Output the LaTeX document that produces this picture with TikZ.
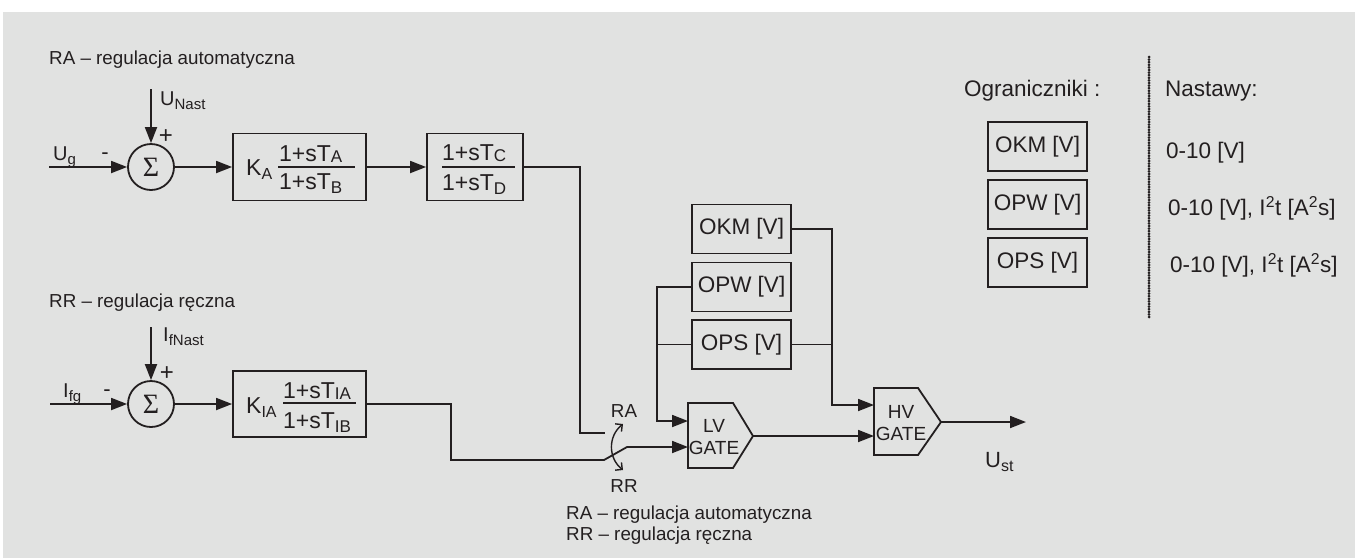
\documentclass[tikz,border=0pt]{standalone}
\usepackage{fontspec}
\setmainfont{Liberation Sans}
\newfontfamily\sigmafont{Liberation Serif}
\usetikzlibrary{arrows.meta}
\definecolor{bg}{RGB}{225,226,225}
\definecolor{ink}{RGB}{35,31,32}
\newcommand{\fs}[1]{\fontsize{#1}{#1}\selectfont}
\newcommand{\sbs}[2]{\raisebox{-4pt}{\fontsize{#1}{#1}\selectfont #2}}
\newcommand{\sbn}[2]{\raisebox{-1.5pt}{\fontsize{#1}{#1}\selectfont #2}}
\begin{document}
\begin{tikzpicture}[x=1pt,y=-1pt,
  wire/.style={draw=ink, line width=1.8pt},
  blk/.style={draw=ink, line width=1.8pt, rectangle, inner sep=0pt},
  sumc/.style={draw=ink, line width=1.8pt, circle, minimum size=46pt, inner sep=0pt, text=ink, font=\sigmafont\fs{28}},
  txt/.style={inner sep=0pt, text=ink, font=\fs{18.8}},
  lab/.style={inner sep=0pt, text=ink, font=\fs{20}},
  frac/.style={inner sep=0pt, text=ink, font=\fs{23}},
  big/.style={inner sep=0pt, text=ink, font=\fs{22.5}},
  gate/.style={draw=ink, line width=1.8pt, line join=miter},
  arr/.style={-{Triangle[length=16pt,width=12pt]}},
  barbs/.style={{Straight Barb[length=5pt,width=10pt]}-{Straight Barb[length=5pt,width=10pt]}}
]
\fill[white] (0,0) rectangle (1355,558);
\fill[bg] (3,12) rectangle (1355,558);
\useasboundingbox (0,0) rectangle (1355,558);

% ---------- RA branch ----------
\node[txt, anchor=base west] (ratitle) at (49,64) {RA – regulacja automatyczna};
\node[sumc] (s1) at (151,167) {Σ};
\coordinate (ugin) at (49,167);
\coordinate (unin) at (151,89);
\draw[wire,arr] (ugin) -- (s1);
\draw[wire,arr] (unin) -- (s1);
\node[lab, anchor=base west] (ug) at (53,160) {U\sbs{15}{g}};
\node[lab, font=\fs{22}] (m1) at (105,156) {-};
\node[lab, font=\fs{24}] (p1) at (166,137) {+};
\node[lab, anchor=base west] (un) at (160,105) {U\sbs{15}{Nast}};

\node[blk, minimum width=133pt, minimum height=67pt] (ka) at (299.5,167) {};
\node[frac, anchor=base west] (kak) at (246,175) {K\sbs{16}{A}};
\node[frac, anchor=base west] (kan) at (279,161) {1+sT\sbn{17}{A}};
\node[frac, anchor=base west] (kad) at (279,189) {1+sT\sbs{17}{B}};
\draw[wire, line width=1.4pt] (278,167) -- (355,167);
\draw[wire,arr] (s1) -- (ka);

\node[blk, minimum width=96pt, minimum height=67pt] (cd) at (475,167) {};
\node[frac, anchor=base west] (cdn) at (442,160) {1+sT\sbn{17}{C}};
\node[frac, anchor=base west] (cdd) at (442,190) {1+sT\sbs{17}{D}};
\draw[wire, line width=1.4pt] (442,167) -- (515,167);
\draw[wire,arr] (ka) -- (cd);

% ---------- RR branch ----------
\node[txt, anchor=base west] (rrtitle) at (49,307) {RR – regulacja ręczna};
\node[sumc] (s2) at (151,404) {Σ};
\coordinate (ifgin) at (50,404);
\coordinate (ifnin) at (151,327);
\draw[wire,arr] (ifgin) -- (s2);
\draw[wire,arr] (ifnin) -- (s2);
\node[lab, anchor=base west] (ifg) at (63,397) {I\sbs{15}{fg}};
\node[lab, font=\fs{22}] (m2) at (107,393) {-};
\node[lab, font=\fs{24}] (p2) at (167,374) {+};
\node[lab, anchor=base west] (ifn) at (163,341) {I\sbs{15}{fNast}};

\node[blk, minimum width=133pt, minimum height=66pt] (kia) at (299.5,404) {};
\node[frac, anchor=base west] (kiak) at (246,413) {K\sbs{16}{IA}};
\node[frac, anchor=base west] (kian) at (283,398) {1+sT\sbn{17}{IA}};
\node[frac, anchor=base west] (kiad) at (283,428) {1+sT\sbs{17}{IB}};
\draw[wire, line width=1.4pt] (283,403) -- (356,403);
\draw[wire,arr] (s2) -- (kia);

% ---------- switch ----------
\coordinate (ra) at (605,433);
\coordinate (lvin1) at (688,421);
\coordinate (lvin2) at (688,447);
\draw[wire] (cd.east) -- (580,167) -- (580,433) -- (ra);
\draw[wire,arr] (kia.east) -- (451,404) -- (451,460) -- (604,460) -- (627,447) -- (lvin2);
\draw[wire, line width=1.4pt, barbs] (623,470) .. controls (608,458) and (608,436) .. (623,424);
\node[txt] (swra) at (624,411) {RA};
\node[txt] (swrr) at (624,486) {RR};
\node[txt, anchor=base west] (leg1) at (566,519) {RA – regulacja automatyczna};
\node[txt, anchor=base west] (leg2) at (566,540) {RR – regulacja ręczna};

% ---------- gates ----------
\draw[gate] (688,403) -- (733,403) -- (753,436) -- (733,468) -- (688,468) -- cycle;
\coordinate (lvout) at (753,436);
\node[lab, font=\fs{19}, anchor=base] (lvt1) at (714,432) {LV};
\node[lab, font=\fs{19}, anchor=base] (lvt2) at (714,454) {GATE};
\draw[gate] (874,388) -- (918,388) -- (941,422) -- (918,455) -- (874,455) -- cycle;
\coordinate (hvout) at (941,422);
\coordinate (hvin1) at (874,405);
\coordinate (hvin2) at (874,436);
\node[lab, font=\fs{19}, anchor=base] (hvt1) at (901,418) {HV};
\node[lab, font=\fs{19}, anchor=base] (hvt2) at (901,440) {GATE};
\coordinate (ust) at (1026,422);
\draw[wire,arr] (lvout) -- (hvin2);
\draw[wire,arr] (hvout) -- (ust);
\node[inner sep=0pt, text=ink, font=\fs{22}, anchor=base west] (ustl) at (985,467) {U\sbs{16}{st}};

% ---------- limiters ----------
\node[blk, big, minimum width=99pt, minimum height=49pt] (okm) at (741.5,229) {OKM [V]};
\node[blk, big, minimum width=99pt, minimum height=49pt] (opw) at (741.5,287) {OPW [V]};
\node[blk, big, minimum width=99pt, minimum height=49pt] (ops) at (741.5,344.5) {OPS [V]};
\draw[wire,arr] (okm.east) -- (832,229) -- (832,405) -- (hvin1);
\draw[wire] (ops.east) -- (832,344.5);
\draw[wire,arr] (opw.west) -- (657,287) -- (657,421) -- (lvin1);
\draw[wire] (ops.west) -- (657,344.5);

% ---------- legend ----------
\node[big, anchor=base west] (ogr) at (964,96) {Ograniczniki :};
\node[big, anchor=base west] (nas) at (1165,96) {Nastawy:};
\node[blk, big, minimum width=99pt, minimum height=49pt] (okm2) at (1037.5,146.5) {OKM [V]};
\node[blk, big, minimum width=99pt, minimum height=49pt] (opw2) at (1037.5,204.5) {OPW [V]};
\node[blk, big, minimum width=99pt, minimum height=49pt] (ops2) at (1037.5,262.5) {OPS [V]};
\node[big, anchor=base west] (n1) at (1166,158) {0-10 [V]};
\node[big, anchor=base west] (n2) at (1168,215) {0-10 [V], I\textsuperscript{2}t [A\textsuperscript{2}s]};
\node[big, anchor=base west] (n3) at (1170,272) {0-10 [V], I\textsuperscript{2}t [A\textsuperscript{2}s]};
\coordinate (dtop) at (1149,57);
\coordinate (dbot) at (1149,318);
\draw[ink, line width=3pt, line cap=round, dash pattern=on 0pt off 2.6pt] (dtop) -- (dbot);
\end{tikzpicture}
\end{document}
